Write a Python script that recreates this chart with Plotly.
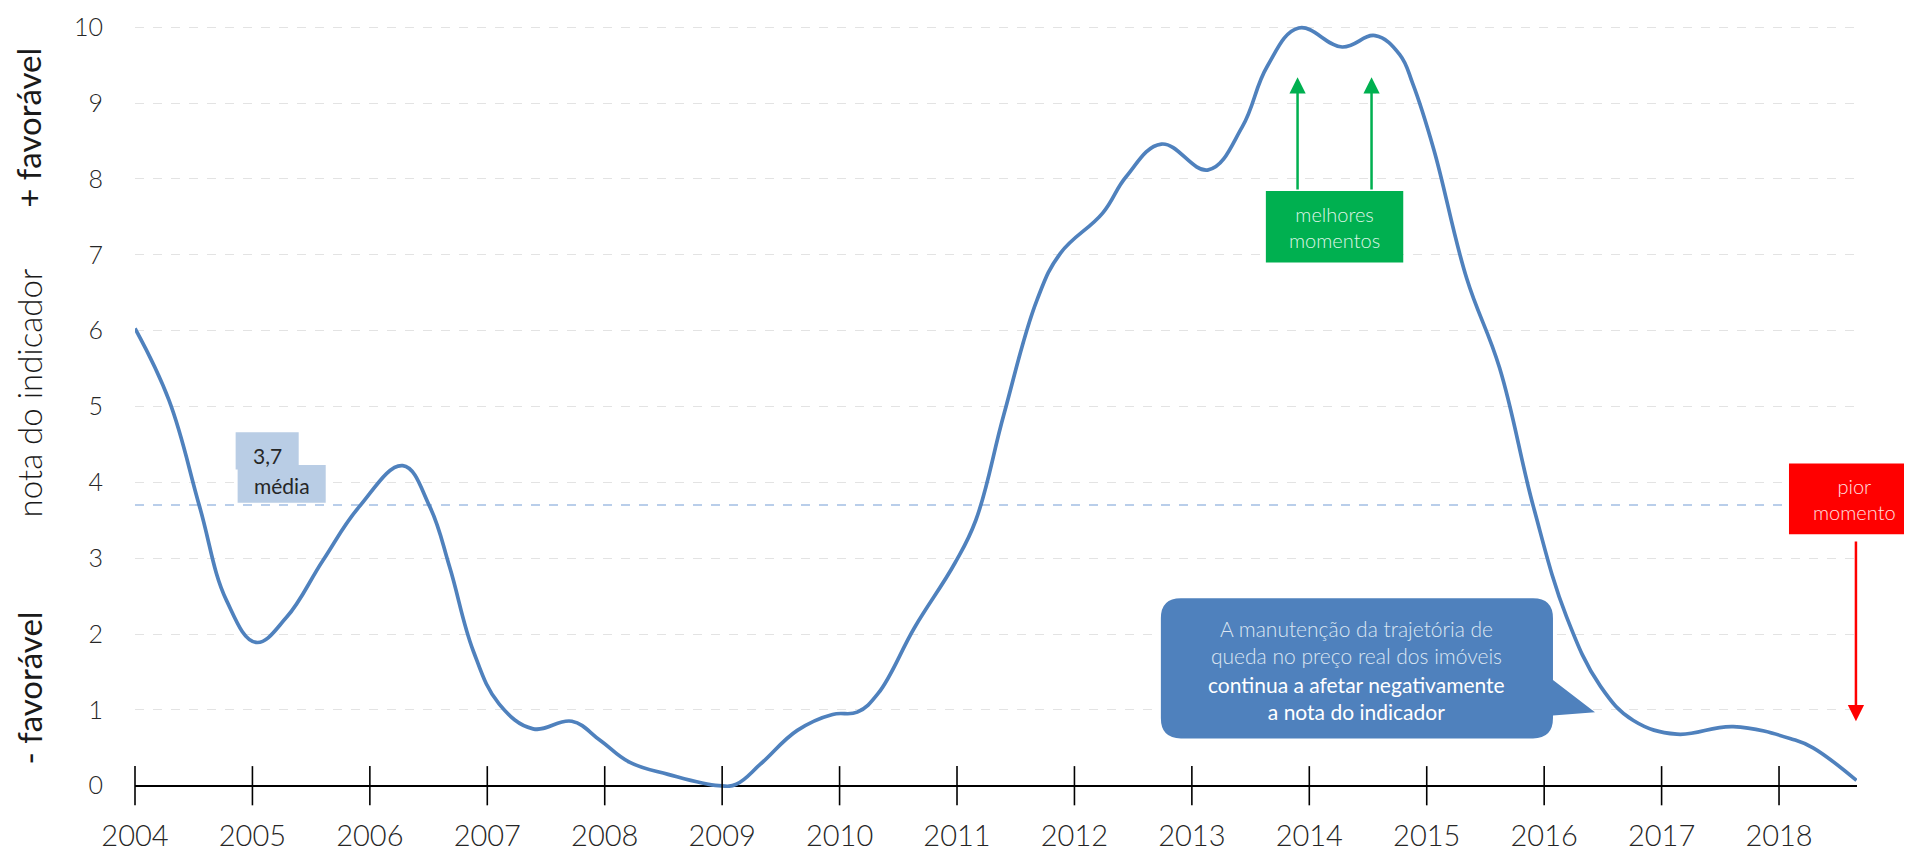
import plotly.graph_objects as go

# dados (posicao em anos, nota do indicador)
anos = [2004.00, 2004.29, 2004.55, 2004.78, 2005.03, 2005.29, 2005.60, 2005.91,
        2006.28, 2006.51, 2006.68, 2006.88, 2007.10, 2007.39, 2007.72, 2007.96,
        2008.21, 2008.54, 2008.97, 2009.12, 2009.33, 2009.64, 2009.94, 2010.15,
        2010.33, 2010.64, 2010.98, 2011.16, 2011.40, 2011.68, 2011.88, 2012.24,
        2012.44, 2012.74, 2013.14, 2013.43, 2013.64, 2013.91, 2014.28, 2014.56,
        2014.77, 2014.88, 2015.06, 2015.34, 2015.62, 2015.91, 2016.19, 2016.48,
        2016.76, 2017.13, 2017.61, 2018.12, 2018.29, 2018.66]
nota = [6.03, 5.08, 3.68, 2.44, 1.89, 2.22, 2.97, 3.68,
        4.22, 3.68, 2.88, 1.78, 1.08, 0.75, 0.85, 0.60,
        0.31, 0.15, 0.00, 0.02, 0.29, 0.73, 0.94, 0.97,
        1.22, 2.09, 2.93, 3.50, 4.90, 6.40, 7.02, 7.55,
        8.03, 8.46, 8.12, 8.69, 9.48, 9.99, 9.74, 9.89,
        9.64, 9.26, 8.39, 6.69, 5.51, 3.67, 2.23, 1.31,
        0.86, 0.68, 0.78, 0.61, 0.50, 0.07]
ticks_anos = list(range(2004, 2019))
ticks_nota = list(range(0, 11))
media = 3.7

FONT = "Lato"
AZUL = "#4f81bd"
VERDE = "#00b050"
VERMELHO = "#ff0000"

fig = go.Figure()

fig.add_hline(y=media, line=dict(color="#a3bfe3", width=1.5, dash="dash"), layer="below")

fig.add_trace(go.Scatter(
    x=anos, y=nota, mode="lines",
    line=dict(color=AZUL, width=3.7, shape="spline", smoothing=1.15),
    hoverinfo="skip", showlegend=False,
))

# marcas de ano cruzando o eixo
fig.add_trace(go.Scatter(
    x=ticks_anos, y=[0] * len(ticks_anos), mode="markers",
    marker=dict(symbol="line-ns", size=28, line=dict(color="black", width=1.6)),
    cliponaxis=False, hoverinfo="skip", showlegend=False,
))

# caixas "3,7 / média"
fig.add_shape(type="rect", x0=2004.857, x1=2005.394, y0=4.17, y1=4.66,
              fillcolor="#b9cde5", line_width=0, layer="above")
fig.add_shape(type="rect", x0=2004.874, x1=2005.624, y0=3.73, y1=4.23,
              fillcolor="#b9cde5", line_width=0, layer="above")
fig.add_annotation(x=2005.13, y=4.36, text=f"{media:.1f}".replace(".", ","), showarrow=False,
                   font=dict(family=FONT, size=21, color="#262626"))
fig.add_annotation(x=2005.25, y=3.96, text="média", showarrow=False,
                   font=dict(family=FONT, size=21, color="#262626"))

# balão de comentário
x0, x1, y0, y1 = 2012.736, 2016.075, 0.624, 2.471
rx, ry = 0.17, 0.264
path = (f"M {x0+rx},{y1} L {x1-rx},{y1} Q {x1},{y1} {x1},{y1-ry} "
        f"L {x1},1.393 L 2016.433,0.97 L {x1},0.927 "
        f"L {x1},{y0+ry} Q {x1},{y0} {x1-rx},{y0} L {x0+rx},{y0} "
        f"Q {x0},{y0} {x0},{y0+ry} L {x0},{y1-ry} Q {x0},{y1} {x0+rx},{y1} Z")
fig.add_shape(type="path", path=path, fillcolor=AZUL, line_width=0, layer="above")
fig.add_annotation(x=2014.405, y=1.89, showarrow=False,
                   text="A manutenção da trajetória de<br>queda no preço real dos imóveis",
                   font=dict(family=FONT, size=21, color="#dce6f2", weight=300))
fig.add_annotation(x=2014.405, y=1.16, showarrow=False,
                   text="continua a afetar negativamente<br>a nota do indicador",
                   font=dict(family=FONT, size=21, color="white"))

# melhores momentos
fig.add_shape(type="rect", x0=2013.63, x1=2014.80, y0=6.90, y1=7.84,
              fillcolor=VERDE, line_width=0, layer="above")
fig.add_annotation(x=2014.215, y=7.37, text="melhores<br>momentos", showarrow=False,
                   font=dict(family=FONT, size=20, color="#dff5e6", weight=300))
for xa in [2013.90, 2014.53]:
    fig.add_annotation(x=xa, y=9.34, ax=xa, ay=7.84, axref="x", ayref="y", text="",
                       showarrow=True, arrowhead=2, arrowsize=1.3, arrowwidth=2.5,
                       arrowcolor=VERDE)

# pior momento
fig.add_shape(type="rect", xref="paper", yref="y", x0=0.9605, x1=1.032, y0=3.315, y1=4.25,
              fillcolor=VERMELHO, line_width=0, layer="above")
fig.add_annotation(xref="paper", yref="y", x=0.9988, y=3.78, text="pior<br>momento",
                   showarrow=False, xanchor="center",
                   font=dict(family=FONT, size=20, color="#ffe0e0", weight=300))
fig.add_annotation(x=2018.655, y=0.85, ax=2018.655, ay=3.24, axref="x", ayref="y", text="",
                   showarrow=True, arrowhead=2, arrowsize=1.3, arrowwidth=2.5,
                   arrowcolor=VERMELHO)

# titulo do eixo y em tres partes
for txt, yy, w in [("+ favorável", 8.67, 400), ("nota do indicador", 5.18, 300),
                   ("- favorável", 1.29, 400)]:
    fig.add_annotation(xref="paper", yref="y", x=-0.0618, y=yy, text=txt, showarrow=False,
                       textangle=-90, xanchor="center", yanchor="middle",
                       font=dict(family=FONT, size=33, color="#1a1a1a", weight=w))

# a pagina tem margem de 8px no body, por isso 1904x846
fig.update_layout(
    width=1904, height=846,
    margin=dict(l=127, r=55, t=17, b=66),
    plot_bgcolor="white", paper_bgcolor="white",
    showlegend=False,
)
fig.update_xaxes(
    range=[2004, 2018.664], tickvals=ticks_anos, ticktext=[str(a) for a in ticks_anos],
    showgrid=False, showline=False, zeroline=False,
    ticks="", ticklabelstandoff=28,
    tickfont=dict(family=FONT, size=29, color="#262626", weight=300),
    automargin=False,
)
fig.update_yaxes(
    range=[-0.03, 10.03], tickvals=ticks_nota,
    showgrid=True, gridcolor="#e3e3e3", griddash="dash", gridwidth=1,
    zeroline=True, zerolinecolor="black", zerolinewidth=2,
    showline=False, ticks="", ticklabelstandoff=31,
    tickfont=dict(family=FONT, size=25, color="#262626", weight=300),
    automargin=False,
)

fig.write_html("out.html")
